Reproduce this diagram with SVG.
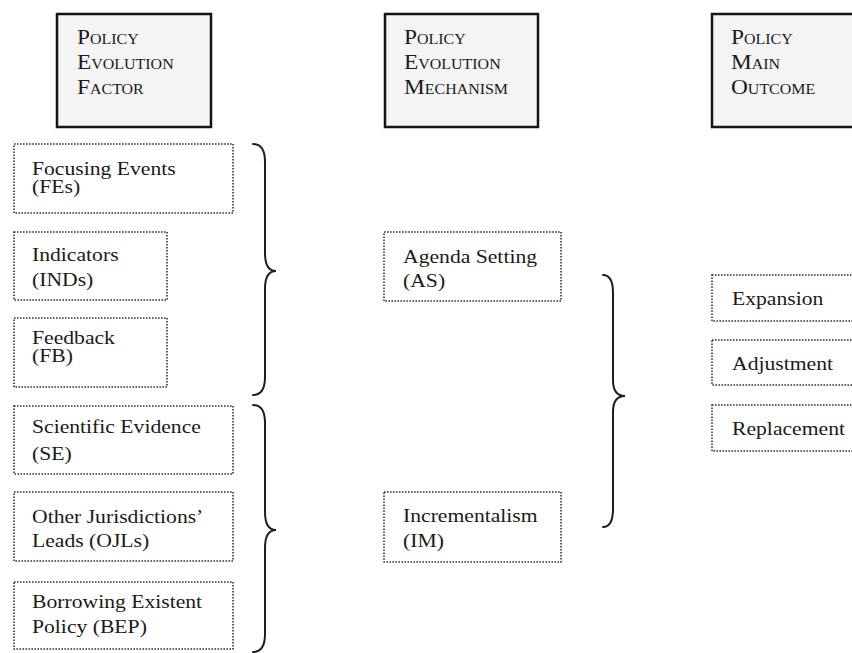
<svg xmlns="http://www.w3.org/2000/svg" width="852" height="653" viewBox="0 0 852 653">
  <style>
    .head rect { fill: #f4f4f4; stroke: #151515; stroke-width: 2.5; }
    .item rect { fill: #ffffff; stroke: #333333; stroke-width: 1.6; stroke-dasharray: 1.6 1.4; }
    .ht { font-family: "Liberation Serif", "Times New Roman", serif; font-size: 20.5px; font-variant: small-caps; fill: #1a1a1a; }
    .bt { font-family: "Liberation Serif", "Times New Roman", serif; font-size: 19px; fill: #1a1a1a; }
    .brace { fill: none; stroke: #1e1e1e; stroke-width: 2; stroke-linecap: round; }
  </style>
  <rect width="852" height="653" fill="#ffffff"/>

  <!-- column headers -->
  <g id="hdr-factor" class="head">
    <rect x="57" y="14" width="154" height="113"/>
    <g transform="translate(77,44) scale(1.14,1)"><text class="ht" x="0" y="0">Policy</text></g>
    <g transform="translate(77,69) scale(1.14,1)"><text class="ht" x="0" y="0">Evolution</text></g>
    <g transform="translate(77,94) scale(1.14,1)"><text class="ht" x="0" y="0">Factor</text></g>
  </g>
  <g id="hdr-mechanism" class="head">
    <rect x="385" y="14" width="153" height="113"/>
    <g transform="translate(404,44) scale(1.14,1)"><text class="ht" x="0" y="0">Policy</text></g>
    <g transform="translate(404,69) scale(1.14,1)"><text class="ht" x="0" y="0">Evolution</text></g>
    <g transform="translate(404,94) scale(1.14,1)"><text class="ht" x="0" y="0">Mechanism</text></g>
  </g>
  <g id="hdr-outcome" class="head">
    <rect x="712" y="14" width="160" height="113"/>
    <g transform="translate(731,44) scale(1.14,1)"><text class="ht" x="0" y="0">Policy</text></g>
    <g transform="translate(731,69) scale(1.14,1)"><text class="ht" x="0" y="0">Main</text></g>
    <g transform="translate(731,94) scale(1.14,1)"><text class="ht" x="0" y="0">Outcome</text></g>
  </g>

  <!-- factors -->
  <g id="fes" class="item">
    <rect x="14" y="144" width="219" height="69"/>
    <g transform="translate(32,175) scale(1.14,1)"><text class="bt">Focusing Events</text></g>
    <g transform="translate(32,193) scale(1.14,1)"><text class="bt">(FEs)</text></g>
  </g>
  <g id="inds" class="item">
    <rect x="14" y="232" width="153" height="68"/>
    <g transform="translate(32,261) scale(1.14,1)"><text class="bt">Indicators</text></g>
    <g transform="translate(32,286) scale(1.14,1)"><text class="bt">(INDs)</text></g>
  </g>
  <g id="fb" class="item">
    <rect x="14" y="318" width="153" height="69"/>
    <g transform="translate(32,344) scale(1.14,1)"><text class="bt">Feedback</text></g>
    <g transform="translate(32,362) scale(1.14,1)"><text class="bt">(FB)</text></g>
  </g>
  <g id="se" class="item">
    <rect x="14" y="406" width="219" height="68"/>
    <g transform="translate(32,433) scale(1.14,1)"><text class="bt">Scientific Evidence</text></g>
    <g transform="translate(32,460) scale(1.14,1)"><text class="bt">(SE)</text></g>
  </g>
  <g id="ojls" class="item">
    <rect x="14" y="492" width="219" height="69"/>
    <g transform="translate(32,523) scale(1.14,1)"><text class="bt">Other Jurisdictions’</text></g>
    <g transform="translate(32,547) scale(1.14,1)"><text class="bt">Leads (OJLs)</text></g>
  </g>
  <g id="bep" class="item">
    <rect x="14" y="582" width="219" height="67"/>
    <g transform="translate(32,608) scale(1.14,1)"><text class="bt">Borrowing Existent</text></g>
    <g transform="translate(32,633) scale(1.14,1)"><text class="bt">Policy (BEP)</text></g>
  </g>

  <!-- mechanisms -->
  <g id="as" class="item">
    <rect x="384" y="232" width="177" height="69"/>
    <g transform="translate(403,263) scale(1.14,1)"><text class="bt">Agenda Setting</text></g>
    <g transform="translate(403,287) scale(1.14,1)"><text class="bt">(AS)</text></g>
  </g>
  <g id="im" class="item">
    <rect x="384" y="492" width="177" height="70"/>
    <g transform="translate(403,522) scale(1.14,1)"><text class="bt">Incrementalism</text></g>
    <g transform="translate(403,547) scale(1.14,1)"><text class="bt">(IM)</text></g>
  </g>

  <!-- outcomes -->
  <g id="expansion" class="item">
    <rect x="712" y="275" width="160" height="46"/>
    <g transform="translate(732,305) scale(1.14,1)"><text class="bt">Expansion</text></g>
  </g>
  <g id="adjustment" class="item">
    <rect x="712" y="340" width="160" height="45"/>
    <g transform="translate(732,370) scale(1.14,1)"><text class="bt">Adjustment</text></g>
  </g>
  <g id="replacement" class="item">
    <rect x="712" y="405" width="160" height="46"/>
    <g transform="translate(732,435) scale(1.14,1)"><text class="bt">Replacement</text></g>
  </g>

  <!-- grouping braces -->
  <g id="connectors">
    <path class="brace" d="M253 144 C261 144,265 150,265 162 L265 253 C265 265,268 271,276 271 C268 271,265 277,265 289 L265 377 C265 389,261 395,253 395"/>
    <path class="brace" d="M253 405 C261 405,265 411,265 423 L265 512 C265 524,268 530,276 530 C268 530,265 536,265 548 L265 634 C265 646,261 652,253 652"/>
    <path class="brace" d="M603 275 C610 275,613 281,613 293 L613 380 C613 391,617 396,625 396 C617 396,613 401,613 412 L613 509 C613 521,610 527,603 527"/>
  </g>
</svg>
